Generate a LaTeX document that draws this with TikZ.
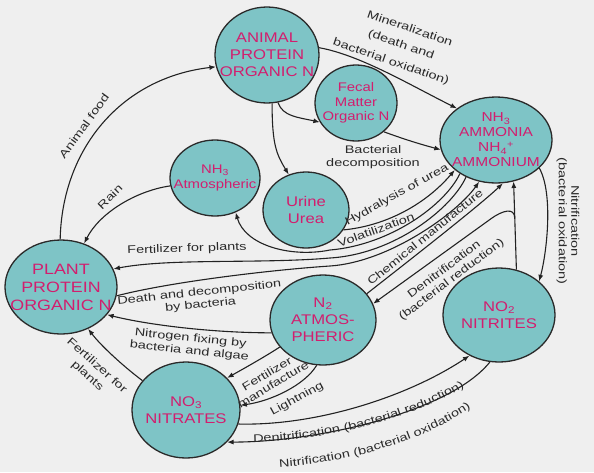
\documentclass[tikz,border=0pt]{standalone}
\usepackage{fontspec}
\setmainfont{Liberation Sans}
\newfontfamily\lblfont[FakeStretch=1.32]{Liberation Sans}
\newfontfamily\ndfont[FakeStretch=1.19]{Liberation Sans}
\usetikzlibrary{arrows.meta,shapes.geometric,decorations.text,calc}
\definecolor{bg}{HTML}{EFEFEF}
\definecolor{cell}{HTML}{7EC4C6}
\definecolor{rim}{HTML}{2A2A2A}
\definecolor{mag}{RGB}{210,30,110}
\definecolor{ink}{HTML}{222222}
\definecolor{lbl}{HTML}{2A2A2A}
\newcommand\curvlbl{\lblfont\fontsize{11}{13}\selectfont\color{lbl}}
\begin{document}
\begin{tikzpicture}[x=1pt,y=-1pt,
  pool/.style={ellipse, draw=rim, fill=cell, line width=1.3pt, inner sep=0pt},
  ntext/.style={text=mag, font=\ndfont\fontsize{14}{17}\selectfont, align=center, inner sep=0pt},
  stext/.style={text=mag, font=\ndfont\fontsize{12.5}{14.5}\selectfont, align=center, inner sep=0pt},
  flow/.style={draw=ink, line width=1.1pt, -{Latex[length=6.5pt,width=5pt]}},
  lbl/.style={text=lbl, font=\lblfont\fontsize{11}{12.5}\selectfont, align=center, inner sep=0pt},
]
\fill[bg] (0,0) rectangle (594,472);
\useasboundingbox (0,0) rectangle (594,472);

% pools
\node[pool, minimum width=104pt, minimum height=96pt] (animal) at (267,55) {};
\node[pool, minimum width=82pt, minimum height=76pt] (fecal) at (356,103) {};
\node[pool, minimum width=112pt, minimum height=86pt] (ammonia) at (496,140) {};
\node[pool, minimum width=90pt, minimum height=76pt] (nh3atm) at (215,178) {};
\node[pool, minimum width=86pt, minimum height=76pt] (urine) at (306,210) {};
\node[pool, minimum width=112pt, minimum height=94pt] (plant) at (61,287) {};
\node[pool, minimum width=106pt, minimum height=90pt] (n2) at (323,320) {};
\node[pool, minimum width=112pt, minimum height=94pt] (no2) at (499,315) {};
\node[pool, minimum width=108pt, minimum height=96pt] (no3) at (186,410) {};

\node[ntext] (animal-t) at (animal) {ANIMAL\\PROTEIN\\ORGANIC N};
\node[stext] (fecal-t) at (fecal) {Fecal\\Matter\\Organic N};
\node[stext, font=\ndfont\fontsize{13}{15}\selectfont] (ammonia-t) at (ammonia) {NH\textsubscript{3}\\AMMONIA\\NH\textsubscript{4}\textsuperscript{+}\\AMMONIUM};
\node[stext] (nh3atm-t) at (nh3atm) {NH\textsubscript{3}\\Atmospheric};
\node[ntext] (urine-t) at (urine) {Urine\\Urea};
\node[ntext, font=\ndfont\fontsize{15}{18}\selectfont] (plant-t) at (plant) {PLANT\\PROTEIN\\ORGANIC N};
\node[ntext] (n2-t) at (n2) {N\textsubscript{2}\\ATMOS-\\PHERIC};
\node[ntext] (no2-t) at (no2) {NO\textsubscript{2}\\NITRITES};
\node[ntext] (no3-t) at (no3) {NO\textsubscript{3}\\NITRATES};

% connectors
\draw[flow] (plant.91) .. controls (62,150) and (120,78) .. (animal.193);
\draw[flow] (animal.8) .. controls (360,55) and (410,85) .. (ammonia.141);
\draw[flow] (animal.283) .. controls +(5,14) and +(-22,-5) .. (fecal.208);
\draw[flow] (animal.276) .. controls +(0,42) and +(-12,-20) .. (urine.116);
\draw[flow] (fecal.314) .. controls +(22,8) and +(-22,-6) .. (ammonia.190);
\draw[flow] (urine.332) .. controls (385,226) and (425,205) .. (ammonia.216);
\draw[flow] (ammonia.223) .. controls (445,205) and (390,245) .. (330,250)
   .. controls (290,258) and (245,245) .. (nh3atm.301);
\draw[flow] (ammonia.231) .. controls (452,208) and (395,254) .. (330,258)
   .. controls (260,264) and (170,258) .. (plant.19);
\draw[flow] (plant.351) .. controls (170,282) and (270,270) .. (330,266)
   .. controls (390,262) and (458,212) .. (ammonia.248);
\draw[flow] (n2.31) .. controls (415,256) and (480,205) .. (ammonia.279);
\draw[flow] (no2.69) -- (ammonia.293);
\coordinate (junc) at ($(no2.69)!0.58!(ammonia.293)$);
\draw[flow] (junc) .. controls +(0,-12) and +(10,-7) .. (492,218) -- (n2.18);
\draw[flow] (ammonia.327) .. controls +(14,25) and +(8,-30) .. (no2.40);
\draw[flow] (nh3atm.190) .. controls +(-35,5) and +(15,-30) .. (plant.62);
\draw[flow] (n2.194) .. controls +(-60,0) and +(40,10) .. (plant.329);
\draw[flow] (no3.146) .. controls +(-20,-15) and +(12,16) .. (plant.303);
\draw[flow] (n2.212) .. controls +(-12,8) and +(18,-10) .. (no3.38);
\draw[flow] (n2.262) .. controls +(-12,20) and +(30,-4) .. (no3.5);
\draw[flow] (no3.345) .. controls +(80,2) and +(-60,40) .. (no2.234);
\draw[flow] (no2.259) .. controls +(-40,50) and +(90,0) .. (no3.322);

% labels
\node[lbl, rotate=54] (l-food) at (84,126) {Animal food};
\node[lbl, rotate=-19] (l-min1) at (410,28) {Mineralization};
\node[lbl, rotate=-19] (l-min2) at (401,45) {(death and};
\node[lbl, rotate=-19] (l-min3) at (391,62) {bacterial oxidation)};
\node[lbl] (l-bact) at (373,157) {Bacterial\\decomposition};
\node[lbl, rotate=29] (l-hyd) at (397,195) {Hydralysis of urea};
\node[lbl, rotate=20] (l-vol) at (376,230) {Volatilization};
\node[lbl, rotate=45] (l-rain) at (110,197) {Rain};
\node[lbl, rotate=2] (l-fert1) at (187,249) {Fertilizer for plants};
\node[lbl, rotate=6] (l-death) at (200,299) {Death and decomposition\\by bacteria};
\node[lbl, rotate=39] (l-chem) at (425,237) {Chemical manufacture};
\node[lbl, rotate=37] (l-denit1) at (448,275) {Denitrification\\(bacterial reduction)};
\node[lbl, rotate=-90] (l-nitr1) at (568,221) {Nitrification\\(bacterial oxidation)};
\node[lbl, rotate=-6] (l-fix) at (190,345) {Nitrogen fixing by\\bacteria and algae};
\node[lbl, rotate=-42, font=\lblfont\fontsize{11}{14}\selectfont] (l-fert2) at (92,371) {Fertilizer for\\plants};
\node[lbl, rotate=31] (l-fman) at (270,379) {Fertilizer\\manufacture};
\node[lbl, rotate=29] (l-light) at (297,399) {Lightning};
\path[decorate, decoration={text along path, text align=center,
  text={|\curvlbl|Denitrification (bacterial reduction)}}]
  (237,442) .. controls (320,444) and (420,418) .. (478,378);
\path[decorate, decoration={text along path, text align=center,
  text={|\curvlbl|Nitrification (bacterial oxidation)}}]
  (262,468) .. controls (350,465) and (430,440) .. (485,398);
\end{tikzpicture}
\end{document}
